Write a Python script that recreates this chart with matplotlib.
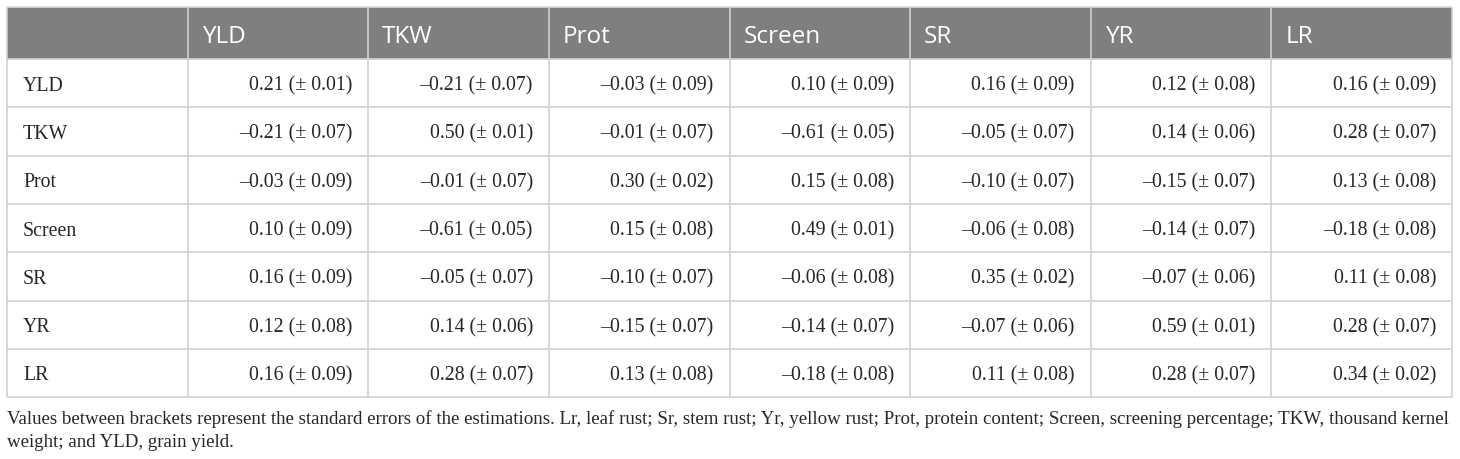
import matplotlib
matplotlib.use("Agg")
from matplotlib import pyplot as plt
import matplotlib.patches as patches

col_labels = ["YLD", "TKW", "Prot", "Screen", "SR", "YR", "LR"]
row_labels = ["YLD", "TKW", "Prot", "Screen", "SR", "YR", "LR"]

est_yld    = [0.21, -0.21, -0.03, 0.10, 0.16, 0.12, 0.16]
est_tkw    = [-0.21, 0.50, -0.01, -0.61, -0.05, 0.14, 0.28]
est_prot   = [-0.03, -0.01, 0.30, 0.15, -0.10, -0.15, 0.13]
est_screen = [0.10, -0.61, 0.15, 0.49, -0.06, -0.14, -0.18]
est_sr     = [0.16, -0.05, -0.10, -0.06, 0.35, -0.07, 0.11]
est_yr     = [0.12, 0.14, -0.15, -0.14, -0.07, 0.59, 0.28]
est_lr     = [0.16, 0.28, 0.13, -0.18, 0.11, 0.28, 0.34]

se_yld    = [0.01, 0.07, 0.09, 0.09, 0.09, 0.08, 0.09]
se_tkw    = [0.07, 0.01, 0.07, 0.05, 0.07, 0.06, 0.07]
se_prot   = [0.09, 0.07, 0.02, 0.08, 0.07, 0.07, 0.08]
se_screen = [0.09, 0.05, 0.08, 0.01, 0.08, 0.07, 0.08]
se_sr     = [0.09, 0.07, 0.07, 0.08, 0.02, 0.06, 0.08]
se_yr     = [0.08, 0.06, 0.07, 0.07, 0.06, 0.01, 0.07]
se_lr     = [0.09, 0.07, 0.08, 0.08, 0.08, 0.07, 0.02]

estimates = [est_yld, est_tkw, est_prot, est_screen, est_sr, est_yr, est_lr]
std_errs = [se_yld, se_tkw, se_prot, se_screen, se_sr, se_yr, se_lr]

caption = ["Values between brackets represent the standard errors of the estimations. "
           "Lr, leaf rust; Sr, stem rust; Yr, yellow rust; Prot, protein content; "
           "Screen, screening percentage; TKW, thousand kernel",
           "weight; and YLD, grain yield."]

# layout in pixels
W, H = 1460, 459
left, right = 7, 1452
top, head_bot, row_h = 7, 59, 48.3
ncol = len(col_labels) + 1
col_w = (right - left) / ncol
grid_col = "#cfcfcf"
head_col = "#7f7f7f"
txt_col = "#262626"
serif = ["Liberation Serif", "DejaVu Serif"]


def fmt(v):
    s = "%.2f" % abs(v)
    return ("\u2013" + s) if v < 0 else s


fig = plt.figure(figsize=(W / 100, H / 100), dpi=100)
ax = fig.add_axes([0, 0, 1, 1])
ax.set_xlim(0, W)
ax.set_ylim(H, 0)
ax.axis("off")

bottom = head_bot + row_h * len(row_labels)

ax.add_patch(patches.Rectangle((left, top), right - left, head_bot - top,
                               facecolor=head_col, edgecolor="none"))

# grid lines
xs = [left + col_w * i for i in range(ncol + 1)]
ax.vlines(xs, top, bottom, colors=grid_col, lw=1.2)
ys = [head_bot + row_h * i for i in range(len(row_labels) + 1)]
ax.hlines(ys, left, right, colors=grid_col, lw=1.2)
ax.hlines([top], left, right, colors="#d8d8d8", lw=1.2)

# header
for j, lab in enumerate(col_labels):
    ax.text(xs[j + 1] + 14, 43, lab, color="white", fontsize=17.5,
            family=["Open Sans", "DejaVu Sans"], ha="left", va="baseline")

# body
for i, rlab in enumerate(row_labels):
    yb = ys[i] + row_h / 2 + 7.5
    ax.text(left + 16, yb, rlab, color=txt_col, fontsize=14.3,
            family=serif, ha="left", va="baseline")
    for j in range(len(col_labels)):
        s = "%s (\u00b1 %.2f)" % (fmt(estimates[i][j]), std_errs[i][j])
        ax.text(xs[j + 2] - 16, yb, s, color=txt_col, fontsize=14.3,
                family=serif, ha="right", va="baseline")

# caption
ax.text(left, 424, caption[0], color=txt_col, fontsize=13.55,
        family=serif, ha="left", va="baseline")
ax.text(left, 447, caption[1], color=txt_col, fontsize=13.55,
        family=serif, ha="left", va="baseline")

fig.savefig("out.png", dpi=100)
